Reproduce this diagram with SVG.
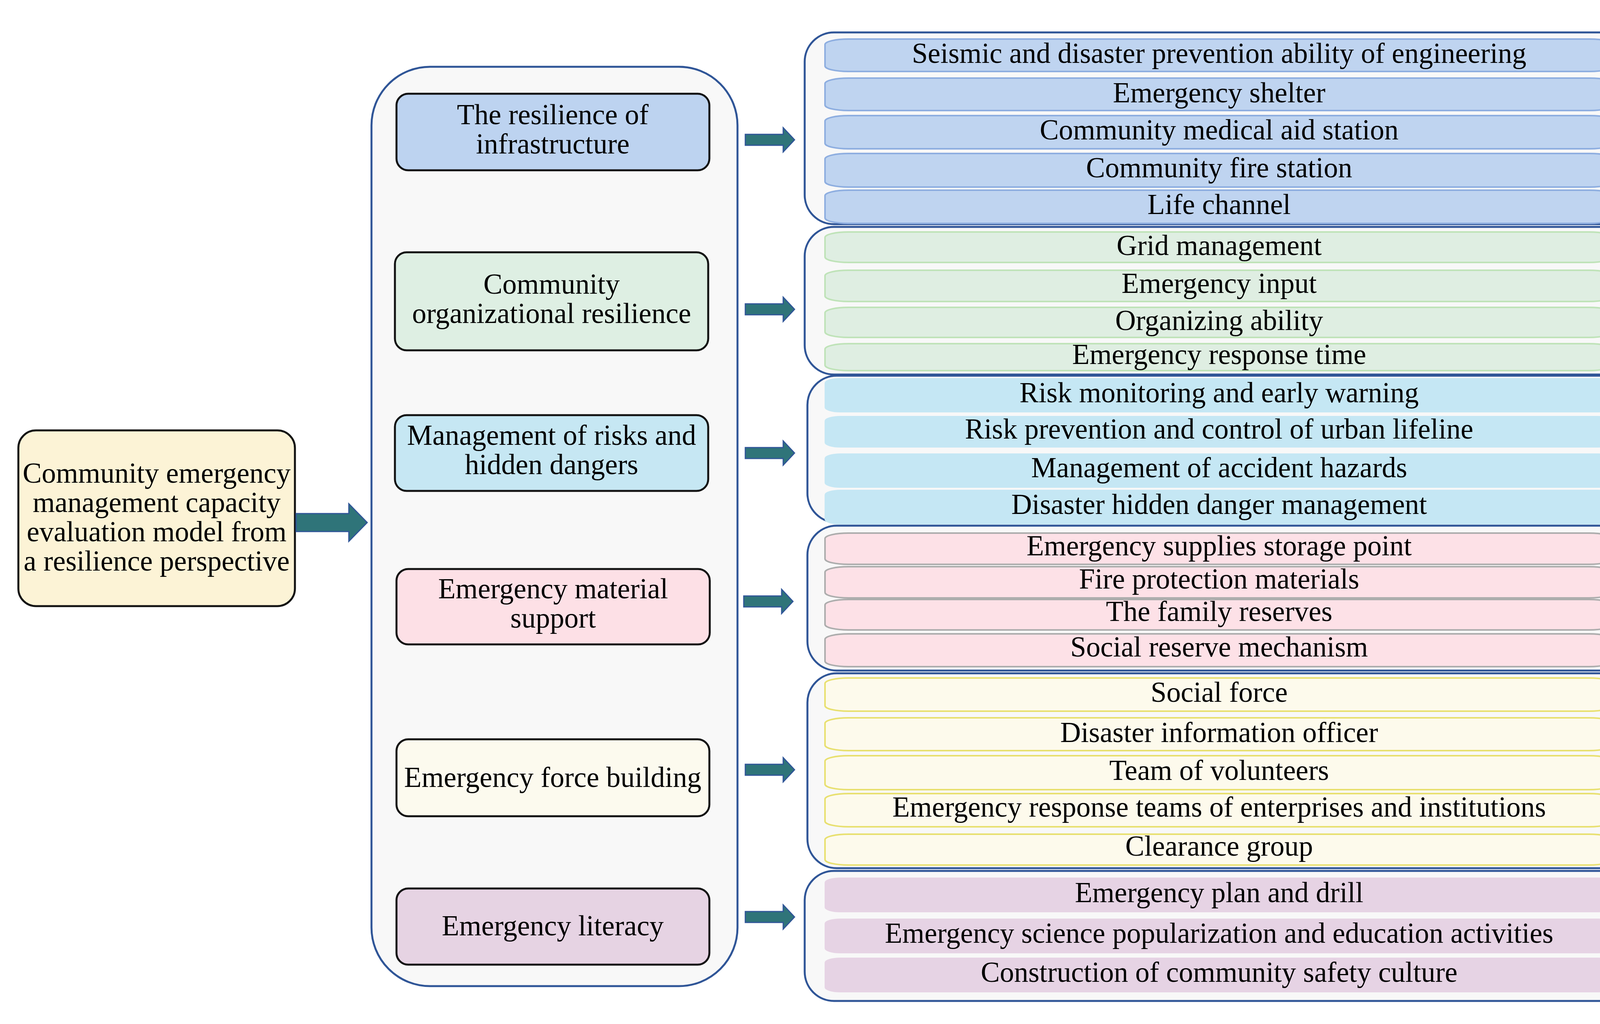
<svg xmlns="http://www.w3.org/2000/svg" width="4244" height="2622" viewBox="0 0 4244 2622">
<style>
text{font-family:"Liberation Serif","Times New Roman",serif;font-size:73px;fill:#000;text-anchor:middle}
.node{stroke:#111;stroke-width:5}
.cont{fill:#F8F8F8;stroke:#2F5597;stroke-width:5}
.arrow{fill:#2F7479;stroke:#2F5597;stroke-width:3}
.blue{fill:#BFD4F0;stroke:#8EAEE0;stroke-width:4}
.green{fill:#DFEEE2;stroke:#BFE3B8;stroke-width:4}
.cyan{fill:#C5E7F4;stroke:#C5E7F4;stroke-width:2}
.pink{fill:#FDE1E7;stroke:#ADADAD;stroke-width:4}
.yellow{fill:#FDFAEC;stroke:#E8E070;stroke-width:4}
.purple{fill:#E6D3E4;stroke:#E6D3E4;stroke-width:2}
</style>
<rect width="4244" height="2622" fill="#FFFFFF"/>

<g id="root">
<rect class="node" x="47" y="1102" width="708" height="450" rx="45" fill="#FCF3D6"/>
<text x="401" y="1236">Community emergency</text>
<text x="401" y="1311">management capacity</text>
<text x="401" y="1386">evaluation model from</text>
<text x="401" y="1461">a resilience perspective</text>
</g>

<g id="middle-container">
<rect class="cont" x="951" y="171" width="937" height="2354" rx="150" ry="150"/>
</g>

<g id="n1">
<rect class="node" x="1015" y="240" width="801" height="196" rx="30" fill="#BDD3F0"/>
<text x="1415" y="318">The resilience of</text>
<text x="1415" y="393">infrastructure</text>
</g>
<g id="n2">
<rect class="node" x="1011" y="646" width="802" height="251" rx="30" fill="#DEEFE3"/>
<text x="1412" y="752">Community</text>
<text x="1412" y="827">organizational resilience</text>
</g>
<g id="n3">
<rect class="node" x="1011" y="1063" width="802" height="194" rx="30" fill="#C6E7F3"/>
<text x="1412" y="1139">Management of risks and</text>
<text x="1412" y="1214">hidden dangers</text>
</g>
<g id="n4">
<rect class="node" x="1015" y="1457" width="802" height="193" rx="30" fill="#FDE0E6"/>
<text x="1416" y="1532">Emergency material</text>
<text x="1416" y="1607">support</text>
</g>
<g id="n5">
<rect class="node" x="1015" y="1893" width="801" height="197" rx="30" fill="#FCFAEE"/>
<text x="1415" y="2015">Emergency force building</text>
</g>
<g id="n6">
<rect class="node" x="1015" y="2275" width="801" height="195" rx="30" fill="#E6D3E3"/>
<text x="1415" y="2395">Emergency literacy</text>
</g>

<g id="g1">
<rect class="cont" x="2060" y="83" width="2118" height="491" rx="75"/>
<rect class="blue" x="2112" y="100" width="2018" height="83" rx="60" ry="14"/>
<rect class="blue" x="2112" y="200" width="2018" height="83" rx="60" ry="14"/>
<rect class="blue" x="2112" y="296" width="2018" height="85" rx="60" ry="14"/>
<rect class="blue" x="2112" y="393" width="2018" height="86" rx="60" ry="14"/>
<rect class="blue" x="2112" y="487" width="2018" height="85" rx="60" ry="14"/>
<text x="3121" y="161">Seismic and disaster prevention ability of engineering</text>
<text x="3121" y="262">Emergency shelter</text>
<text x="3121" y="357">Community medical aid station</text>
<text x="3121" y="454">Community fire station</text>
<text x="3121" y="548">Life channel</text>
</g>

<g id="g2">
<rect class="cont" x="2060" y="581" width="2118" height="378" rx="75"/>
<rect class="green" x="2112" y="594" width="2016" height="78" rx="60" ry="14"/>
<rect class="green" x="2112" y="692" width="2016" height="80" rx="60" ry="14"/>
<rect class="green" x="2112" y="787" width="2016" height="77" rx="60" ry="14"/>
<rect class="green" x="2112" y="880" width="2016" height="69" rx="60" ry="14"/>
<text x="3121" y="653">Grid management</text>
<text x="3121" y="750">Emergency input</text>
<text x="3121" y="845">Organizing ability</text>
<text x="3121" y="932">Emergency response time</text>
</g>

<g id="g3">
<rect class="cont" x="2067" y="962" width="2111" height="376" rx="75"/>
<rect class="cyan" x="2112" y="969" width="2018" height="86" rx="40" ry="12"/>
<rect class="cyan" x="2112" y="1066" width="2018" height="79" rx="40" ry="12"/>
<rect class="cyan" x="2112" y="1162" width="2018" height="86" rx="40" ry="12"/>
<rect class="cyan" x="2112" y="1255" width="2018" height="87" rx="40" ry="12"/>
<text x="3121" y="1030">Risk monitoring and early warning</text>
<text x="3121" y="1123">Risk prevention and control of urban lifeline</text>
<text x="3121" y="1222">Management of accident hazards</text>
<text x="3121" y="1316">Disaster hidden danger management</text>
</g>

<g id="g4">
<rect class="cont" x="2067" y="1346" width="2113" height="371" rx="75"/>
<rect class="pink" x="2112" y="1365" width="2016" height="80" rx="60" ry="14"/>
<rect class="pink" x="2112" y="1451" width="2016" height="80" rx="60" ry="14"/>
<rect class="pink" x="2112" y="1535" width="2016" height="78" rx="60" ry="14"/>
<rect class="pink" x="2112" y="1623" width="2016" height="84" rx="60" ry="14"/>
<text x="3121" y="1422">Emergency supplies storage point</text>
<text x="3121" y="1507">Fire protection materials</text>
<text x="3121" y="1590">The family reserves</text>
<text x="3121" y="1681">Social reserve mechanism</text>
</g>

<g id="g5">
<rect class="cont" x="2067" y="1724" width="2111" height="499" rx="75"/>
<rect class="yellow" x="2112" y="1736" width="2016" height="85" rx="60" ry="14"/>
<rect class="yellow" x="2112" y="1838" width="2016" height="84" rx="60" ry="14"/>
<rect class="yellow" x="2112" y="1935" width="2016" height="87" rx="60" ry="14"/>
<rect class="yellow" x="2112" y="2032" width="2016" height="85" rx="60" ry="14"/>
<rect class="yellow" x="2112" y="2136" width="2016" height="79" rx="60" ry="14"/>
<text x="3121" y="1797">Social force</text>
<text x="3121" y="1900">Disaster information officer</text>
<text x="3121" y="1997">Team of volunteers</text>
<text x="3121" y="2091">Emergency response teams of enterprises and institutions</text>
<text x="3121" y="2191">Clearance group</text>
</g>

<g id="g6">
<rect class="cont" x="2060" y="2230" width="2111" height="333" rx="75"/>
<rect class="purple" x="2112" y="2248" width="2018" height="87" rx="40" ry="12"/>
<rect class="purple" x="2112" y="2353" width="2018" height="87" rx="40" ry="12"/>
<rect class="purple" x="2112" y="2453" width="2018" height="87" rx="40" ry="12"/>
<text x="3121" y="2310">Emergency plan and drill</text>
<text x="3121" y="2414">Emergency science popularization and education activities</text>
<text x="3121" y="2514">Construction of community safety culture</text>
</g>

<g id="connectors">
<path class="arrow" d="M758,1315 L893,1315 L893,1290 L940,1338 L893,1386 L893,1361 L758,1361 Z"/>
<path class="arrow" d="M1908,344 L2005,344 L2005,327 L2034,358 L2005,389 L2005,372 L1908,372 Z"/>
<path class="arrow" d="M1908,778 L2005,778 L2005,761 L2034,792 L2005,823 L2005,806 L1908,806 Z"/>
<path class="arrow" d="M1908,1146 L2005,1146 L2005,1129 L2034,1160 L2005,1191 L2005,1174 L1908,1174 Z"/>
<path class="arrow" d="M1904,1526 L2001,1526 L2001,1509 L2030,1540 L2001,1571 L2001,1554 L1904,1554 Z"/>
<path class="arrow" d="M1908,1957 L2005,1957 L2005,1940 L2034,1971 L2005,2002 L2005,1985 L1908,1985 Z"/>
<path class="arrow" d="M1908,2334 L2005,2334 L2005,2317 L2034,2348 L2005,2379 L2005,2362 L1908,2362 Z"/>
</g>
</svg>
